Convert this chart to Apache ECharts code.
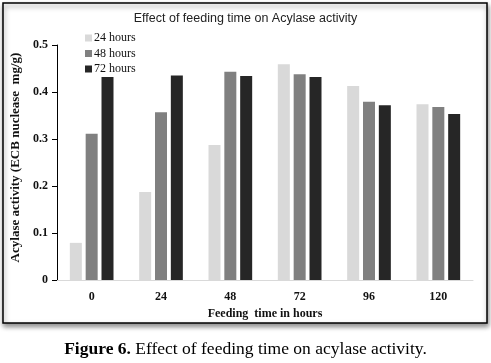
<!DOCTYPE html>
<html><head><meta charset="utf-8">
<script src="https://cdn.jsdelivr.net/npm/echarts@6/dist/echarts.min.js"></script>
<style>html,body{margin:0;padding:0;background:#fff}#c{width:491px;height:363px}</style>
</head><body><div id="c"></div>
<script>
const categories = ['0','24','48','72','96','120'];
const s24 = [0.079, 0.187, 0.287, 0.459, 0.413, 0.374];
const s48 = [0.311, 0.357, 0.443, 0.438, 0.379, 0.368];
const s72 = [0.432, 0.435, 0.434, 0.432, 0.372, 0.353];
const seriesNames = ['24 hours','48 hours','72 hours'];
const colors = ['#d9d9d9','#808080','#262626'];
const serif = '"Liberation Serif", "DejaVu Serif", serif';
const chart = echarts.init(document.getElementById('c'));
chart.setOption({
  animation:false,
  title:{text:'Effect of feeding time on Acylase activity',left:'center',top:7,
    textStyle:{fontFamily:'"Liberation Sans", sans-serif',fontSize:12.5,fontWeight:'normal',color:'#222'}},
  legend:{orient:'vertical',left:80,top:27,itemWidth:7,itemHeight:7,itemGap:3.5,icon:'rect',
    textStyle:{fontFamily:serif,fontSize:12,color:'#111',padding:[0,0,0,-3]},data:seriesNames},
  grid:{left:57,right:18,top:45,bottom:83},
  xAxis:{type:'category',data:categories,
    axisLine:{lineStyle:{color:'#d9d9d9',width:1}},axisTick:{show:false},
    axisLabel:{fontFamily:serif,fontWeight:'bold',fontSize:12,color:'#111',margin:11},
    name:'Feeding  time in hours',nameLocation:'middle',nameGap:28,
    nameTextStyle:{fontFamily:serif,fontWeight:'bold',fontSize:12,color:'#111'}},
  yAxis:{type:'value',min:0,max:0.5,interval:0.1,
    axisLine:{show:true,lineStyle:{color:'#000',width:1}},
    axisTick:{show:true,length:5,lineStyle:{color:'#000'}},
    splitLine:{show:false},
    axisLabel:{fontFamily:serif,fontWeight:'bold',fontSize:12,color:'#111',margin:9},
    name:'Acylase activity (ECB nuclease  mg/g)',nameLocation:'middle',nameGap:34,
    nameTextStyle:{fontFamily:serif,fontWeight:'bold',fontSize:13,color:'#111',padding:[0,0,0,10]}},
  series:[s24,s48,s72].map((d,i)=>({name:seriesNames[i],type:'bar',data:d,barWidth:12,barGap:'32%',
    itemStyle:{color:colors[i]}})),
  graphic:[
    {type:'rect',z:-10,shape:{x:3,y:3,width:484,height:320},
      style:{fill:'#fff',stroke:'#000',lineWidth:1.5,shadowBlur:5,shadowOffsetY:3,shadowOffsetX:1,shadowColor:'rgba(0,0,0,0.45)'}},
    {type:'text',left:'center',top:340,
      style:{rich:{b:{fontFamily:serif,fontWeight:'bold',fontSize:17.5,fill:'#000'},n:{fontFamily:serif,fontSize:17.5,fill:'#000'}},
        text:'{b|Figure 6.}{n| Effect of feeding time on acylase activity.}'}}
  ]
});
</script></body></html>
